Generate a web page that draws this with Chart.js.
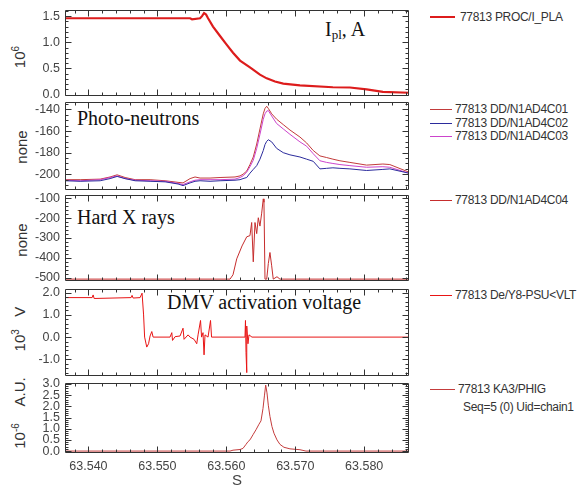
<!DOCTYPE html>
<html>
<head>
<meta charset="utf-8">
<script src="https://cdn.jsdelivr.net/npm/chart.js@4.4.0/dist/chart.umd.min.js"></script>
<style>
  body { margin: 0; background: #fff; }
  #wrap { position: relative; width: 584px; height: 488px; overflow: hidden; background: #fff;
          font-family: "Liberation Sans", Arial, sans-serif; }
  #wrap canvas { position: absolute; left: 0; }
  .ytitle { position: absolute; font-size: 15px; color: #333; white-space: nowrap; line-height: 1;
            transform: translate(-50%, -50%) rotate(-90deg); }
  .ytitle sup { font-size: 10px; }
  .tag { position: absolute; font-family: "Liberation Serif", "Times New Roman", serif; font-size: 20px;
         color: #111; white-space: nowrap; line-height: 20px; }
  .tag sub { font-size: 13px; vertical-align: -3px; }
  .leg { position: absolute; font-size: 12px; color: #333; white-space: nowrap; line-height: 14px; letter-spacing: -0.3px; }
  .swatch { position: absolute; height: 0; }
</style>
</head>
<body>
<div id="wrap">
  <div class="ytitle" style="left:19px;top:57px">10<sup>6</sup></div>
  <div class="ytitle" style="left:21px;top:147px">none</div>
  <div class="ytitle" style="left:21px;top:240px">none</div>
  <div class="ytitle" style="left:19px;top:329px">10<sup>3</sup>&nbsp;&nbsp;&nbsp;V</div>
  <div class="ytitle" style="left:19px;top:413px">10<sup>-6</sup>&nbsp;&nbsp;&nbsp;&nbsp;A.U.</div>

  <div class="tag" style="left:325px;top:19px">I<sub>pl</sub>, A</div>
  <div class="tag" style="left:77px;top:108px">Photo-neutrons</div>
  <div class="tag" style="left:77px;top:207px">Hard X rays</div>
  <div class="tag" style="left:167px;top:292px">DMV activation voltage</div>

  <div class="swatch" style="left:430px;top:16px;width:25px;border-top:2.5px solid #dd1c1c"></div>
  <div class="leg" style="left:460px;top:10px">77813 PROC/I_PLA</div>
  <div class="swatch" style="left:430px;top:109px;width:22px;border-top:1px solid #c23b3b"></div>
  <div class="leg" style="left:455px;top:102px">77813 DD/N1AD4C01</div>
  <div class="swatch" style="left:430px;top:123px;width:22px;border-top:1px solid #2b2b9c"></div>
  <div class="leg" style="left:455px;top:116px">77813 DD/N1AD4C02</div>
  <div class="swatch" style="left:430px;top:136px;width:22px;border-top:1px solid #cc44cc"></div>
  <div class="leg" style="left:455px;top:129px">77813 DD/N1AD4C03</div>
  <div class="swatch" style="left:430px;top:200px;width:22px;border-top:1px solid #c62d2d"></div>
  <div class="leg" style="left:455px;top:193px">77813 DD/N1AD4C04</div>
  <div class="swatch" style="left:430px;top:295px;width:22px;border-top:1px solid #e81515"></div>
  <div class="leg" style="left:455px;top:288px">77813 De/Y8-PSU&lt;VLT</div>
  <div class="swatch" style="left:430px;top:389px;width:25px;border-top:1px solid #c43c3c"></div>
  <div class="leg" style="left:458px;top:382px">77813 KA3/PHIG</div>
  <div class="leg" style="left:463px;top:400px">Seq=5 (0) Uid=chain1</div>
</div>
<script>
// shared time axis (s)
const xMin = 63.5366, xMax = 63.5865;
const timeTicks = [63.540, 63.550, 63.560, 63.570, 63.580];

// plasma current, 10^6 A
const iplTime = [63.53662, 63.55474, 63.55503, 63.55619, 63.55648, 63.55677, 63.55706, 63.55735,
  63.55807, 63.55909, 63.55996, 63.56097, 63.56199, 63.56343, 63.56488, 63.56586, 63.56706,
  63.56826, 63.57068, 63.57546, 63.57793, 63.58035, 63.58271, 63.58648];
const iplValue = [1.46, 1.46, 1.44, 1.46, 1.50, 1.56, 1.53, 1.46, 1.30, 1.12, 0.97, 0.80, 0.65,
  0.52, 0.38, 0.31, 0.25, 0.21, 0.175, 0.14, 0.135, 0.10, 0.05, 0.035];
const iplTicks = [0, 0.5, 1.0, 1.5];

// photo-neutron channels
const pnTime = [63.53662, 63.53880, 63.54170, 63.54314, 63.54416, 63.54532, 63.54677, 63.54894,
  63.55112, 63.55300, 63.55372, 63.55474, 63.55546, 63.55619, 63.55764, 63.55909, 63.56126,
  63.56199, 63.56242, 63.56296, 63.56343, 63.56391, 63.56441, 63.56488, 63.56536, 63.56561,
  63.56586, 63.56609, 63.56658, 63.56730, 63.56826, 63.56923, 63.57068, 63.57165, 63.57261,
  63.57358, 63.57455, 63.57546, 63.57648, 63.57793, 63.58035, 63.58271, 63.58372, 63.58648];
const pnC01 = [-205, -205, -204.5, -202.5, -200.5, -203, -205, -205, -206, -207.5, -208, -204,
  -202.5, -203.5, -203.5, -203, -202.5, -201.5, -200, -197, -191, -184, -172, -158, -144, -139,
  -137, -139, -144, -149, -154, -159, -165.5, -171, -178, -183, -184.5, -186, -187.5, -189,
  -191.5, -190.5, -191, -198];
const pnC02 = [-206, -206.5, -206, -204, -202, -204, -206, -206.5, -207, -209, -210.5, -208,
  -206.5, -206, -206.5, -206, -205.5, -205, -204, -203, -199, -195.5, -192, -186, -178, -172.5,
  -169.5, -168, -170, -176, -180, -182, -184, -186, -188, -195, -194.5, -194, -194.5, -195,
  -196.5, -195.5, -195, -199];
const pnC03 = [-205.5, -206, -205, -203, -201.5, -204, -205.5, -206, -206.5, -208.5, -209.5, -207,
  -205.5, -205, -205, -205, -204.5, -203, -201.5, -198, -193, -187, -176, -163, -149, -144,
  -141.5, -141, -146, -153, -158, -163, -170, -174, -181, -187.5, -189, -190, -191, -192,
  -193.5, -193, -193.5, -199];
const pnTicks = [-200, -180, -160, -140];

// hard X rays
const hxrTime = [63.53662, 63.56054, 63.56097, 63.56151, 63.56228, 63.56296, 63.56343, 63.56368,
  63.56391, 63.56416, 63.56441, 63.56464, 63.56488, 63.56513, 63.56536, 63.56546, 63.56561,
  63.56586, 63.56609, 63.56633, 63.56658, 63.56681, 63.56735, 63.56778, 63.58648];
const hxrValue = [-507, -507, -485, -405, -340, -294, -288, -222, -420, -222, -278, -198, -240,
  -175, -103, -120, -507, -507, -429, -373, -440, -507, -495, -507, -507];
const hxrTicks = [-500, -400, -300, -200, -100];

// DMV activation voltage, 10^3 V
const dmvTime = [63.53662, 63.54054, 63.54068, 63.54083, 63.54619, 63.54633, 63.54648, 63.54749,
  63.54778, 63.54800, 63.54815, 63.54846, 63.54872, 63.54894, 63.54919, 63.54938, 63.55184,
  63.55209, 63.55220, 63.55257, 63.55329, 63.55372, 63.55387, 63.55445, 63.55474, 63.55532,
  63.55571, 63.55590, 63.55626, 63.55641, 63.55662, 63.55677, 63.55691, 63.55735, 63.55771,
  63.55786, 63.56271, 63.56278, 63.56286, 63.56293, 63.56300, 63.56314, 63.56329, 63.56372,
  63.58648];
const dmvValue = [1.78, 1.78, 1.9, 1.74, 1.78, 1.88, 1.76, 1.78, 1.98, 1.0, 0.0, -0.45, -0.3,
  0.05, 0.25, 0.0, 0.0, 0.2, -0.15, 0.02, 0.05, 0.4, -0.1, 0.1, 0.0, -0.1, -0.3, 0.1, 0.75, 0.0,
  0.2, -0.8, 0.1, 0.0, 0.75, 0.0, 0.0, 0.75, -0.7, -1.6, 0.5, -0.3, 0.1, 0.0, 0.0];
const dmvTicks = [-1.0, 0.0, 1.0, 2.0];

// KA3/PHIG, 10^-6 A.U.
const phigTime = [63.53662, 63.56054, 63.56097, 63.56199, 63.56242, 63.56286, 63.56314, 63.56343,
  63.56391, 63.56430, 63.56474, 63.56503, 63.56532, 63.56554, 63.56571, 63.56590, 63.56609,
  63.56633, 63.56662, 63.56691, 63.56735, 63.56778, 63.56836, 63.56923, 63.57068, 63.57112,
  63.57155, 63.58648];
const phigValue = [0.0, 0.0, 0.04, 0.07, 0.12, 0.3, 0.42, 0.5, 0.75, 0.95, 1.2, 1.35, 1.9, 2.5,
  2.95, 2.6, 2.05, 1.55, 1.1, 0.8, 0.5, 0.3, 0.17, 0.1, 0.06, 0.03, 0.0, 0.0];
const phigTicks = [0.0, 0.5, 1.0, 1.5, 2.0, 2.5, 3.0];

const tickFont = { family: '"Liberation Sans", Arial, sans-serif', size: 12.5 };
const tickColor = '#444';

function pts(times, values) {
  return times.map((t, i) => ({ x: t, y: values[i] }));
}

const panels = [
  { top: 7, bottom: 98, yMin: -0.018, yMax: 1.627, yTicks: iplTicks, digits: 1, yMinor: 0.1,
    series: [{ data: pts(iplTime, iplValue), color: '#dd1c1c', width: 2.2 }] },
  { top: 99, bottom: 192, yMin: -214.1, yMax: -132.6, yTicks: pnTicks, digits: 0, yMinor: 5,
    series: [
      { data: pts(pnTime, pnC02), color: '#2b2b9c', width: 1 },
      { data: pts(pnTime, pnC03), color: '#cc44cc', width: 1 },
      { data: pts(pnTime, pnC01), color: '#c23b3b', width: 1 }
    ] },
  { top: 192, bottom: 283, yMin: -514, yMax: -81, yTicks: hxrTicks, digits: 0, yMinor: 20,
    series: [{ data: pts(hxrTime, hxrValue), color: '#c62d2d', width: 1 }] },
  { top: 286, bottom: 378, yMin: -1.73, yMax: 2.19, yTicks: dmvTicks, digits: 1, yMinor: 0.2,
    series: [{ data: pts(dmvTime, dmvValue), color: '#e81515', width: 1 }] },
  { top: 380, bottom: 453, yMin: -0.086, yMax: 3.064, yTicks: phigTicks, digits: 1, yMinor: 0.1,
    series: [{ data: pts(phigTime, phigValue), color: '#c43c3c', width: 1 }] }
];

// frame with inward major/minor ticks on all four sides
function frameTicks(p) {
  return {
    id: 'frameTicks',
    afterDatasetsDraw(chart) {
      const { ctx, chartArea: a, scales: { x, y } } = chart;
      const L = Math.round(a.left) + 0.5, R = Math.round(a.right) - 0.5;
      const T = Math.round(a.top) + 0.5, B = Math.round(a.bottom) - 0.5;
      ctx.save();
      ctx.strokeStyle = '#333';
      ctx.lineWidth = 1;
      ctx.beginPath();
      ctx.rect(L, T, R - L, B - T);
      const n0 = Math.ceil(x.min / 0.002), n1 = Math.floor(x.max / 0.002);
      for (let n = n0; n <= n1; n++) {
        const len = n % 5 === 0 ? 6 : 3;
        const px = Math.round(x.getPixelForValue(n * 0.002)) + 0.5;
        ctx.moveTo(px, T); ctx.lineTo(px, T + len);
        ctx.moveTo(px, B); ctx.lineTo(px, B - len);
      }
      const m0 = Math.ceil(p.yMin / p.yMinor - 1e-9), m1 = Math.floor(p.yMax / p.yMinor + 1e-9);
      for (let m = m0; m <= m1; m++) {
        const v = m * p.yMinor;
        const major = p.yTicks.some(t => Math.abs(t - v) < p.yMinor / 10);
        const len = major ? 6 : 3;
        const py = Math.round(y.getPixelForValue(v)) + 0.5;
        ctx.moveTo(L, py); ctx.lineTo(L + len, py);
        ctx.moveTo(R, py); ctx.lineTo(R - len, py);
      }
      ctx.stroke();
      ctx.restore();
    }
  };
}

const wrap = document.getElementById('wrap');

panels.forEach((p, i) => {
  const last = i === panels.length - 1;
  const padTop = 10, padBottom = last ? 0 : 10, axisH = last ? 35 : 0;
  const canvas = document.createElement('canvas');
  canvas.width = 420;
  canvas.height = p.bottom - p.top + padTop + padBottom + axisH;
  canvas.style.top = (p.top - padTop) + 'px';
  wrap.appendChild(canvas);

  new Chart(canvas, {
    type: 'line',
    data: {
      datasets: p.series.map(s => ({
        data: s.data,
        borderColor: s.color,
        borderWidth: s.width,
        pointRadius: 0,
        tension: 0,
        fill: false
      }))
    },
    options: {
      responsive: false,
      animation: false,
      devicePixelRatio: 1,
      layout: { padding: { top: padTop, bottom: padBottom, left: 0, right: 11 } },
      plugins: { legend: { display: false }, tooltip: { enabled: false } },
      scales: {
        x: {
          type: 'linear',
          min: xMin,
          max: xMax,
          display: last,
          afterBuildTicks: s => { s.ticks = timeTicks.map(v => ({ value: v })); },
          afterFit: last ? s => { s.height = axisH; } : undefined,
          grid: { display: false, drawTicks: false },
          border: { display: false },
          ticks: { callback: v => v.toFixed(3), color: tickColor, font: tickFont, padding: 6,
                   maxRotation: 0, autoSkip: false },
          title: { display: true, text: 'S', color: tickColor,
                   font: { family: tickFont.family, size: 15, lineHeight: 1 },
                   padding: { top: 0, bottom: 0 } }
        },
        y: {
          min: p.yMin,
          max: p.yMax,
          afterFit: s => { s.width = 65; },
          afterBuildTicks: s => { s.ticks = p.yTicks.map(v => ({ value: v })); },
          grid: { display: false, drawTicks: false },
          border: { display: false },
          ticks: { callback: v => v.toFixed(p.digits), color: tickColor, font: tickFont, padding: 5,
                   autoSkip: false }
        }
      }
    },
    plugins: [frameTicks(p)]
  });
});
</script>
</body>
</html>
